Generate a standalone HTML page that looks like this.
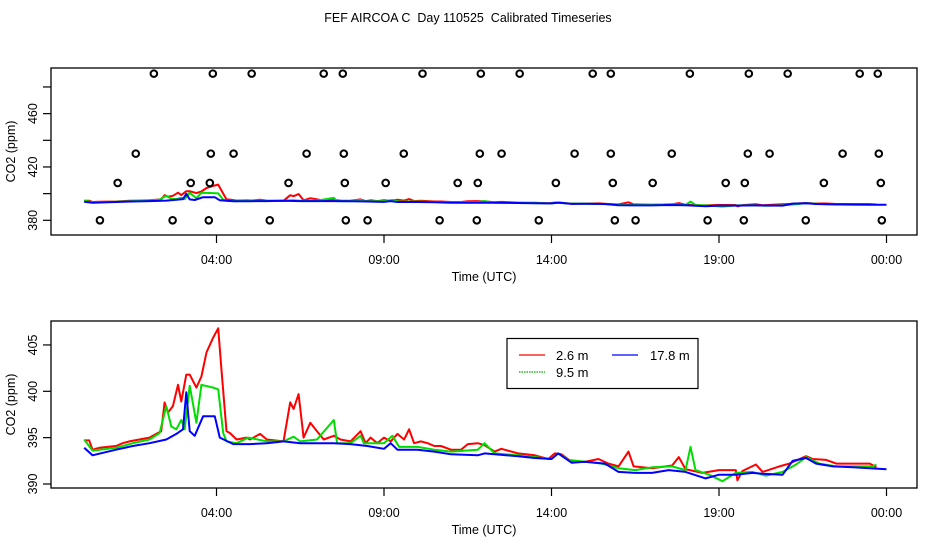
<!DOCTYPE html>
<html><head><meta charset="utf-8"><style>
body{margin:0;background:#fff;}
svg{display:block;font-family:"Liberation Sans",sans-serif;}
</style></head><body>
<svg id="chart" width="936" height="540">
<text x="468" y="22" text-anchor="middle" font-size="12.5">FEF AIRCOA C &#160;Day 110525 &#160;Calibrated Timeseries</text>
</svg>
<script>
const redT=[0.05,0.2,0.3,0.5,1.0,1.2,1.4,1.7,2.0,2.2,2.35,2.45,2.55,2.7,2.85,2.95,3.1,3.2,3.4,3.55,3.7,3.9,4.05,4.15,4.3,4.4,4.6,4.9,5.0,5.3,5.5,6.0,6.2,6.3,6.45,6.6,6.8,7.0,7.2,7.5,7.7,8.0,8.3,8.45,8.6,8.8,9.0,9.2,9.4,9.6,9.75,9.9,10.1,10.3,10.5,10.7,11.0,11.3,11.5,11.8,12,12.3,12.5,13,13.5,13.9,14.1,14.3,14.6,15,15.4,15.7,16,16.3,16.45,17,17.6,17.8,18,18.5,19,19.5,19.55,19.7,20.1,20.3,20.8,21.1,21.6,21.8,22.2,22.5,23,23.5,23.7];
const redV=[394.7,394.7,393.7,393.9,394.1,394.4,394.6,394.8,395.0,395.4,395.7,398.8,397.7,398.4,400.7,398.9,401.8,401.8,400.4,401.6,404.2,405.8,406.8,402.3,395.7,395.5,394.8,395.0,394.8,395.4,394.8,394.6,398.8,398.1,399.7,395.0,396.6,395.7,394.8,395.2,394.8,394.6,395.7,394.4,395.0,394.4,395.0,394.6,395.4,394.8,395.9,394.4,394.6,394.4,394.1,394.1,393.7,393.7,394.3,394.4,394.2,393.5,393.8,393.3,393.1,392.7,393.3,393.2,392.4,392.4,392.7,392.2,391.9,393.5,391.9,391.7,392.0,392.9,391.6,391.2,391.5,391.5,390.4,391.4,392.1,391.3,391.9,392.2,393.0,392.7,392.6,392.2,392.2,392.2,391.8];
const greenT=[0.05,0.3,1.0,1.5,2.0,2.3,2.5,2.65,2.8,2.95,3.05,3.2,3.4,3.55,3.9,4.05,4.2,4.3,4.6,4.95,5.5,6.0,6.3,6.5,7.0,7.5,7.6,8.0,8.3,8.4,9.0,9.25,9.45,10.0,10.5,11.0,11.8,12,12.3,13,14,14.2,14.5,15,15.5,16,16.5,17,17.6,18.0,18.15,18.3,18.7,19.1,19.5,20,20.4,20.9,21.3,21.6,22,22.5,23,23.6,23.7];
const greenV=[394.8,393.6,393.9,394.4,394.8,395.5,398.4,396.2,395.9,396.9,395.9,400.6,396.6,400.7,400.4,400.2,395.5,394.6,394.4,395.0,394.6,394.6,395.1,394.6,394.8,396.9,394.4,394.4,395.2,394.4,394.4,395.2,394.0,394.0,393.7,393.5,393.7,394.4,393.3,393.1,392.7,393.3,392.6,392.4,392.2,391.7,391.5,391.8,391.9,391.5,394.0,391.5,391.0,390.3,391.2,391.3,390.9,391.3,392.1,392.9,392.2,391.9,391.9,391.9,392.1];
const blueT=[0.05,0.3,1.0,1.5,2.0,2.5,2.8,3.0,3.1,3.2,3.35,3.6,3.95,4.1,4.5,5,5.5,6,6.5,7,7.5,8,8.5,9,9.2,9.4,10,10.5,11,11.8,12,12.3,13,13.5,14,14.2,14.6,15,15.6,16,16.5,17,17.5,18,18.6,19,19.5,20,20.3,20.9,21.2,21.6,21.9,22.4,23,23.5,24];
const blueV=[393.9,393.1,393.7,394.1,394.4,394.8,395.4,395.9,399.9,395.7,395.2,397.3,397.3,395.0,394.3,394.3,394.4,394.6,394.4,394.4,394.4,394.3,394.1,393.8,394.4,393.7,393.7,393.5,393.2,393.1,393.3,393.2,393.0,392.8,392.7,393.3,392.3,392.4,392.2,391.3,391.2,391.2,391.5,391.3,390.6,391.0,391.0,391.2,391.1,391.0,392.5,392.8,392.2,391.9,391.8,391.7,391.6];
const circleT=[2.13,3.89,5.05,7.2,7.77,10.15,11.89,13.05,15.23,15.77,18.13,19.89,21.05,23.2,23.74,
1.59,3.83,4.51,6.69,7.8,9.59,11.86,12.51,14.69,15.77,17.59,19.86,20.51,22.69,23.77,
1.05,3.23,3.8,6.15,7.83,9.05,11.2,11.8,14.13,15.83,17.02,19.2,19.77,22.13,23.83,
0.52,2.69,3.77,5.59,7.86,8.51,10.66,11.77,13.62,15.89,16.51,18.66,19.74,21.59,23.86];
const circleV=[490,490,490,490,490,490,490,490,490,490,490,490,490,490,490,
430,430,430,430,430,430,430,430,430,430,430,430,430,430,430,
408,408,408,408,408,408,408,408,408,408,408,408,408,408,408,
380,380,380,380,380,380,380,380,380,380,380,380,380,380,380];
const xTickHours=[4,9,14,19,24];
const xTickLabels=["04:00","09:00","14:00","19:00","00:00"];
const topYTicks=[380,400,420,440,460,480];
const topYLabels=[380,420,460];
const botYTicks=[390,395,400,405];

const NS="http://www.w3.org/2000/svg";
const svg=document.getElementById('chart');
function mk(tag,attrs,parent){const e=document.createElementNS(NS,tag);for(const k in attrs)e.setAttribute(k,attrs[k]);(parent||svg).appendChild(e);return e;}
function xs(h){return 216.5+(h-4)*33.5;}
const panels=[
 {top:68,bottom:235,y:v=>220.3-(v-380)*1.3333,yt:topYTicks,yl:topYLabels,name:'top'},
 {top:321,bottom:488,y:v=>484-(v-390)*9.27,yt:botYTicks,yl:botYTicks,name:'bottom'}
];
const L=51,R=917;
panels.forEach(p=>{
 const g=mk('g',{});
 
 
 const box=mk('rect',{x:L,y:p.top,width:R-L,height:p.bottom-p.top,fill:'none',stroke:'#000','stroke-width':1.3},g);
 
 
 xTickHours.forEach((h,i)=>{
  const x=xs(h);
  mk('line',{x1:x,x2:x,y1:p.bottom,y2:p.bottom+8,stroke:'#000','stroke-width':1.2},g);
  const t=mk('text',{x:x,y:p.bottom+29,'text-anchor':'middle','font-size':12.5},g);
  t.textContent=xTickLabels[i];
  
  
 });
 const xt=mk('text',{x:484,y:p.bottom+46,'text-anchor':'middle','font-size':12.5},g);
 xt.textContent='Time (UTC)';
 
 
 p.yt.forEach(v=>{const y=p.y(v);mk('line',{x1:L-8,x2:L,y1:y,y2:y,stroke:'#000','stroke-width':1.2},g);});
 p.yl.forEach(v=>{
  const y=p.y(v);
  const t=mk('text',{x:0,y:0,'text-anchor':'middle','font-size':12.5,transform:`translate(37,${y}) rotate(-90)`},g);
  t.textContent=v;
  
  
 });
 const yt=mk('text',{x:0,y:0,'text-anchor':'middle','font-size':12.5,transform:`translate(15,${(p.top+p.bottom)/2}) rotate(-90)`},g);
 yt.textContent='CO2 (ppm)';
 
 
 [[redT,redV,'#ff0000','red-2.6m'],[greenT,greenV,'#00dd00','green-9.5m'],[blueT,blueV,'#0000ff','blue-17.8m']].forEach(s=>{
  const pts=s[0].map((h,i)=>xs(h).toFixed(1)+','+p.y(s[1][i]).toFixed(1)).join(' ');
  const pl=mk('polyline',{points:pts,fill:'none',stroke:s[2],'stroke-width':2,'stroke-linejoin':'round'},g);
  
  
 });
 if(p.name==='top'){
  circleT.forEach((h,i)=>{
   const c=mk('circle',{cx:xs(h),cy:p.y(circleV[i]),r:3.3,fill:'none',stroke:'#000','stroke-width':2},g);
   
   
  });
 }
});
const lg=mk('g',{});


mk('rect',{x:507,y:338.5,width:191,height:50,fill:'#fff',stroke:'#000','stroke-width':1.2},lg);
[[519,545,355,'#ff0000','2.6 m','',556],[612,638,355,'#0000ff','17.8 m','',650],[519,545,372,'#00aa00','9.5 m','1.5 1',556]].forEach(e=>{
 mk('line',{x1:e[0],x2:e[1],y1:e[2],y2:e[2],stroke:e[3],'stroke-width':1.2,'stroke-dasharray':e[5]||'none'},lg);
 const t=mk('text',{x:e[6],y:e[2]+5,'font-size':13},lg);
 t.textContent=e[4];
 
 
});
</script>
</body></html>
